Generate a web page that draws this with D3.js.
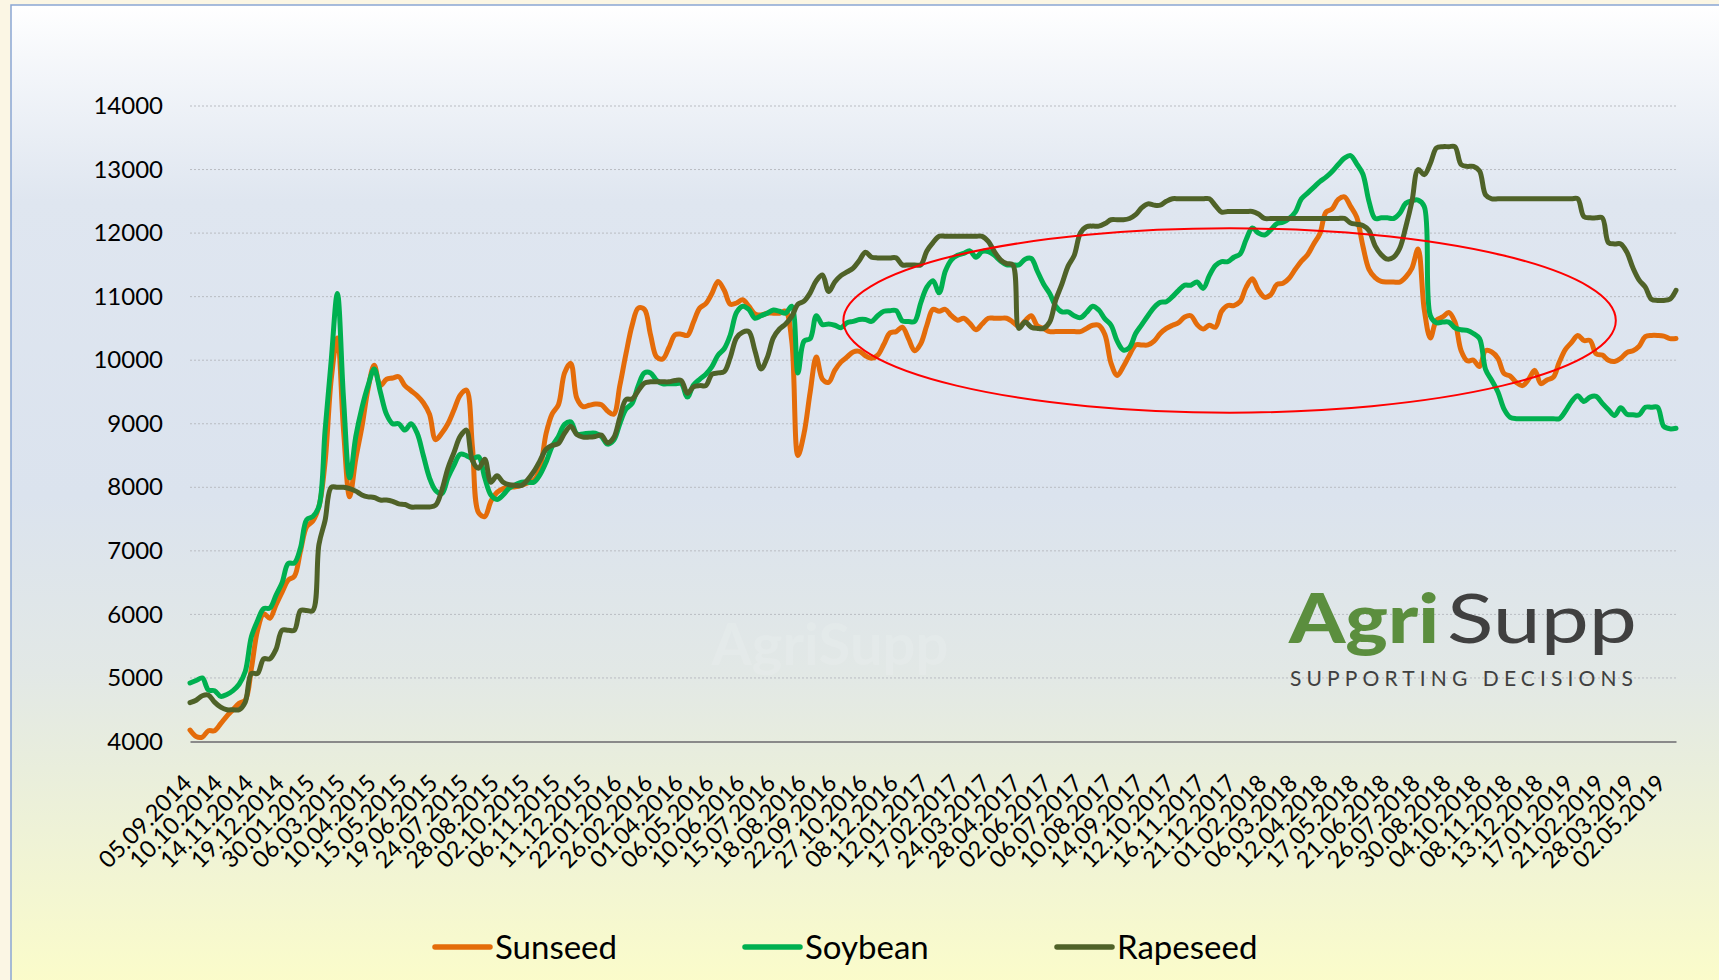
<!DOCTYPE html>
<html>
<head>
<meta charset="utf-8">
<script src="https://cdn.jsdelivr.net/npm/d3@7"></script>
<style>
  html, body { margin: 0; padding: 0; background: #fbf6e4; }
  svg { display: block; }
</style>
</head>
<body>
<svg id="chart" width="1719" height="980"></svg>
<script>
// Category-axis labels (every fifth weekly observation is labelled)
const tickLabels = [
  "05.09.2014","10.10.2014","14.11.2014","19.12.2014","30.01.2015","06.03.2015","10.04.2015",
  "15.05.2015","19.06.2015","24.07.2015","28.08.2015","02.10.2015","06.11.2015","11.12.2015",
  "22.01.2016","26.02.2016","01.04.2016","06.05.2016","10.06.2016","15.07.2016","18.08.2016",
  "22.09.2016","27.10.2016","08.12.2016","12.01.2017","17.02.2017","24.03.2017","28.04.2017",
  "02.06.2017","06.07.2017","10.08.2017","14.09.2017","12.10.2017","16.11.2017","21.12.2017",
  "01.02.2018","06.03.2018","12.04.2018","17.05.2018","21.06.2018","26.07.2018","30.08.2018",
  "04.10.2018","08.11.2018","13.12.2018","17.01.2019","21.02.2019","28.03.2019","02.05.2019"
];
const labelEvery = 5;

// Weekly prices
const sunseed = [
  4180,4080,4070,4170,4170,4280,4400,4500,4600,4650,
  5150,5750,6010,5940,6150,6350,6540,6600,7000,7380,
  7470,7700,8400,9700,10350,8900,7850,8450,8950,9550,
  9920,9600,9700,9720,9740,9600,9520,9440,9330,9150,
  8750,8850,9000,9220,9450,9530,8630,7600,7540,7780,
  7920,7980,8000,8010,8030,8070,8110,8300,8850,9160,
  9300,9800,9950,9400,9270,9290,9310,9300,9200,9150,
  9600,10100,10550,10820,10800,10400,10050,10020,10200,10400,
  10410,10390,10600,10820,10890,11050,11240,11100,10880,10900,
  10950,10850,10730,10710,10740,10740,10740,10770,10300,8500,
  8850,9500,10050,9700,9650,9840,9970,10050,10130,10140,
  10070,10030,10080,10250,10430,10450,10520,10340,10150,10260,
  10550,10800,10770,10800,10700,10630,10660,10580,10480,10570,
  10660,10660,10660,10660,10600,10530,10620,10700,10540,10500,
  10450,10450,10450,10450,10450,10450,10500,10550,10550,10400,
  9950,9760,9900,10080,10240,10240,10240,10300,10420,10500,
  10550,10590,10680,10700,10560,10490,10550,10520,10770,10860,
  10860,10920,11150,11280,11100,10990,11030,11190,11210,11290,
  11430,11560,11660,11830,11990,12330,12380,12530,12570,12420,
  12250,11800,11430,11300,11240,11230,11230,11230,11310,11450,
  11750,10800,10350,10630,10680,10750,10600,10150,9990,10000,
  9900,10150,10130,10030,9790,9750,9650,9600,9700,9840,
  9630,9690,9730,9970,10170,10280,10390,10310,10310,10100,
  10080,10000,9980,10030,10120,10150,10220,10370,10390,10390,
  10380,10340,10340
];
const soybean = [
  4920,4960,5000,4810,4800,4710,4740,4800,4900,5100,
  5650,5900,6090,6100,6300,6500,6800,6810,7050,7490,
  7540,7700,8900,10000,11050,9400,8150,8800,9250,9600,
  9860,9500,9150,9000,9000,8900,9000,8850,8500,8150,
  7950,7900,8150,8350,8520,8500,8450,8480,8150,7880,
  7810,7880,7990,8040,8080,8080,8080,8200,8400,8650,
  8800,8990,9030,8840,8840,8850,8850,8800,8680,8740,
  9000,9230,9320,9600,9800,9800,9680,9630,9630,9630,
  9630,9420,9610,9700,9780,9900,10080,10180,10400,10750,
  10850,10800,10660,10700,10740,10790,10770,10740,10850,9800,
  10300,10340,10700,10560,10570,10550,10510,10590,10610,10640,
  10640,10610,10700,10770,10780,10780,10620,10610,10610,10900,
  11150,11250,11060,11400,11580,11650,11680,11720,11620,11710,
  11710,11650,11560,11500,11500,11500,11590,11600,11400,11200,
  11050,10850,10760,10760,10700,10670,10750,10850,10790,10650,
  10550,10300,10160,10200,10420,10560,10700,10830,10910,10920,
  11000,11100,11180,11180,11230,11130,11330,11490,11550,11550,
  11620,11670,11900,12080,12000,11970,12050,12150,12170,12230,
  12330,12540,12630,12720,12810,12880,12970,13080,13180,13220,
  13090,12930,12500,12230,12240,12240,12230,12310,12470,12510,
  12520,12420,10700,10590,10600,10600,10510,10480,10470,10420,
  10340,9850,9680,9500,9230,9100,9080,9080,9080,9080,
  9080,9080,9080,9080,9200,9350,9440,9350,9420,9430,
  9320,9220,9130,9250,9150,9140,9140,9260,9260,9260,
  8960,8920,8930
];
const rapeseed = [
  4610,4650,4720,4730,4620,4540,4500,4500,4500,4620,
  5070,5070,5300,5300,5450,5750,5750,5750,6060,6060,
  6060,7100,7480,8000,8000,8000,7980,7940,7880,7850,
  7840,7800,7800,7780,7740,7730,7690,7690,7690,7690,
  7720,7950,8300,8550,8800,8900,8420,8300,8440,8080,
  8180,8080,8040,8030,8030,8120,8250,8420,8600,8660,
  8690,8850,8960,8830,8790,8790,8800,8820,8700,8780,
  9100,9380,9390,9520,9640,9660,9660,9660,9660,9680,
  9680,9480,9580,9600,9600,9780,9800,9820,10050,10350,
  10440,10450,10150,9860,10040,10350,10490,10570,10690,10880,
  10930,11060,11250,11340,11080,11230,11330,11390,11450,11570,
  11700,11620,11610,11610,11610,11610,11500,11500,11500,11500,
  11720,11850,11950,11950,11950,11950,11950,11950,11950,11950,
  11870,11710,11580,11520,11500,10500,10600,10520,10500,10500,
  10600,10950,11200,11480,11650,12000,12100,12110,12110,12150,
  12210,12210,12210,12230,12290,12400,12460,12440,12440,12500,
  12540,12540,12540,12540,12540,12540,12540,12430,12330,12340,
  12340,12340,12340,12340,12300,12230,12230,12230,12230,12230,
  12230,12230,12230,12230,12230,12230,12230,12230,12230,12160,
  12140,12120,12040,11800,11660,11590,11620,11760,12100,12500,
  13000,12920,13100,13340,13360,13360,13360,13080,13050,13050,
  12980,12600,12540,12540,12540,12540,12540,12540,12540,12540,
  12540,12540,12540,12540,12540,12540,12540,12260,12240,12240,
  12240,11850,11830,11830,11700,11450,11260,11150,10960,10940,
  10940,10960,11100
];

const seriesNames  = ["Sunseed", "Soybean", "Rapeseed"];
const seriesValues = [sunseed, soybean, rapeseed];
const seriesColors = ["#E46C0A", "#00B050", "#4F6228"];

const yTicks = [4000, 5000, 6000, 7000, 8000, 9000, 10000, 11000, 12000, 13000, 14000];

// Highlighted period: [first week, last week] and [low, high] price
const highlightWeeks  = [106.4, 232.2];
const highlightPrices = [9175, 12075];

const svg = d3.select("#chart");
const W = 1719, H = 980;

// ---- background panel ----
const defs = svg.append("defs");
const grad = defs.append("linearGradient")
  .attr("id", "panelFill").attr("x1", 0).attr("y1", 0).attr("x2", 0).attr("y2", 1);
[[0, "#ffffff"], [0.05, "#f6f8fb"], [0.2, "#dfe6f0"], [0.5, "#dbe3ee"],
 [0.68, "#e2e8e6"], [0.78, "#e9eedc"], [1, "#fbfcca"]]
  .forEach(([o, c]) => grad.append("stop").attr("offset", o).attr("stop-color", c));

svg.append("rect").attr("x", 0).attr("y", 0).attr("width", W).attr("height", H).attr("fill", "#fbf6e4");
svg.append("rect").attr("x", 11).attr("y", 5).attr("width", W - 11 + 5).attr("height", H)
  .attr("fill", "url(#panelFill)").attr("stroke", "#8ba6d4").attr("stroke-width", 1.5);

// ---- scales ----
const x = d3.scaleLinear().domain([0, sunseed.length - 1]).range([190, 1676]);
const y = d3.scaleLinear().domain([4000, 14000]).range([741.5, 106]);

// ---- watermark ----
svg.append("text")
  .attr("x", 830).attr("y", 665)
  .attr("text-anchor", "middle")
  .attr("font-family", "Lato, sans-serif").attr("font-size", 58).attr("font-weight", 700)
  .attr("fill", "#ffffff").attr("fill-opacity", 0.12)
  .text("AgriSupp");

// ---- gridlines ----
const grid = svg.append("g");
grid.selectAll("line")
  .data(yTicks.filter(t => t > 4000))
  .join("line")
  .attr("x1", x.range()[0]).attr("x2", x.range()[1])
  .attr("y1", d => y(d)).attr("y2", d => y(d))
  .attr("stroke", "#b9bcc2").attr("stroke-width", 1).attr("stroke-dasharray", "2,2");

// ---- y axis ----
const yAxis = svg.append("g")
  .attr("transform", `translate(${x.range()[0] - 27},0)`)
  .call(d3.axisLeft(y).tickValues(yTicks).tickSize(0).tickPadding(0).tickFormat(d3.format("d")));
yAxis.select(".domain").remove();
yAxis.selectAll("text")
  .attr("font-family", "Lato, sans-serif").attr("font-size", 24).attr("fill", "#000");

// ---- x axis ----
const tickIdx = tickLabels.map((_, k) => k * labelEvery);
const xAxis = svg.append("g")
  .attr("transform", `translate(0,${y(4000)})`)
  .call(d3.axisBottom(x).tickValues(tickIdx).tickSize(0).tickFormat((d, k) => tickLabels[k]));
xAxis.select(".domain").attr("stroke", "#8a8a8a").attr("stroke-width", 2);
xAxis.selectAll("text")
  .attr("font-family", "Lato, sans-serif").attr("font-size", 23.5).attr("fill", "#000")
  .attr("text-anchor", "end")
  .attr("dy", 0).attr("y", 0)
  .attr("transform", "translate(3,43) rotate(-45)");

// ---- series ----
const line = d3.line()
  .x((d, i) => x(i))
  .y(d => y(d))
  .curve(d3.curveCatmullRom.alpha(0.5));

svg.append("g").selectAll("path")
  .data(seriesValues)
  .join("path")
  .attr("d", d => line(d))
  .attr("fill", "none")
  .attr("stroke", (d, i) => seriesColors[i])
  .attr("stroke-width", 5)
  .attr("stroke-linejoin", "round")
  .attr("stroke-linecap", "round");

// ---- highlighted period ----
svg.append("ellipse")
  .attr("cx", (x(highlightWeeks[0]) + x(highlightWeeks[1])) / 2)
  .attr("cy", (y(highlightPrices[0]) + y(highlightPrices[1])) / 2)
  .attr("rx", (x(highlightWeeks[1]) - x(highlightWeeks[0])) / 2)
  .attr("ry", (y(highlightPrices[0]) - y(highlightPrices[1])) / 2)
  .attr("fill", "none").attr("stroke", "#ff0000").attr("stroke-width", 2);

// ---- logo ----
const logo = svg.append("g");
logo.append("text")
  .attr("x", 1289).attr("y", 643)
  .attr("font-family", "Lato, sans-serif").attr("font-size", 68).attr("font-weight", 900)
  .attr("fill", "#5b8e3e")
  .attr("textLength", 150).attr("lengthAdjust", "spacingAndGlyphs")
  .text("Agri");
logo.append("text")
  .attr("x", 1447).attr("y", 643)
  .attr("font-family", "Lato, sans-serif").attr("font-size", 68).attr("font-weight", 400)
  .attr("fill", "#404040")
  .attr("textLength", 190).attr("lengthAdjust", "spacingAndGlyphs")
  .text("Supp");
logo.append("text")
  .attr("x", 1290).attr("y", 686)
  .attr("font-family", "Lato, sans-serif").attr("font-size", 21)
  .attr("fill", "#404040")
  .attr("textLength", 343).attr("lengthAdjust", "spacing")
  .text("SUPPORTING DECISIONS");

// ---- legend ----
const legendX = [435, 745, 1057];
const legend = svg.append("g");
seriesNames.forEach((name, i) => {
  const g = legend.append("g").attr("transform", `translate(${legendX[i]},947)`);
  g.append("line").attr("x1", 0).attr("x2", 55).attr("y1", 0).attr("y2", 0)
    .attr("stroke", seriesColors[i]).attr("stroke-width", 5.5).attr("stroke-linecap", "round");
  g.append("text").attr("x", 60).attr("y", 12)
    .attr("font-family", "Lato, sans-serif").attr("font-size", 33).attr("fill", "#000")
    .text(name);
});
</script>
</body>
</html>
